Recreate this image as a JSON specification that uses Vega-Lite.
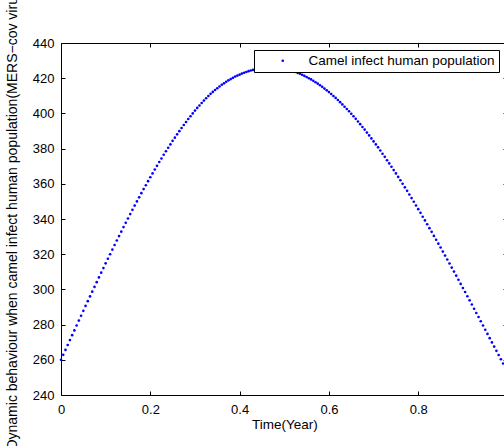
{
  "$schema": "https://vega.github.io/schema/vega-lite/v6.json",
  "width": 443,
  "height": 352,
  "autosize": {"type": "none"},
  "padding": {"left": 61, "top": 43, "right": 0, "bottom": 51},
  "background": "white",
  "config": {
    "view": {"stroke": null},
    "font": "Liberation Sans",
    "axis": {
      "domainColor": "black",
      "domainWidth": 1,
      "tickColor": "black",
      "tickWidth": 1,
      "grid": false,
      "labelColor": "black",
      "labelFontSize": 13,
      "labelFlush": false,
      "labelOverlap": false,
      "titleColor": "black",
      "titleFontWeight": "normal",
      "titleLimit": 1000
    }
  },
  "data": {
    "values": [
      {"time": 0.000, "infected": 260.0}, {"time": 0.005, "infected": 262.8}, {"time": 0.010, "infected": 265.6}, {"time": 0.015, "infected": 268.4},
      {"time": 0.020, "infected": 271.2}, {"time": 0.025, "infected": 274.0}, {"time": 0.030, "infected": 276.7}, {"time": 0.035, "infected": 279.5},
      {"time": 0.040, "infected": 282.3}, {"time": 0.045, "infected": 285.0}, {"time": 0.050, "infected": 287.8}, {"time": 0.055, "infected": 290.6},
      {"time": 0.060, "infected": 293.3}, {"time": 0.065, "infected": 296.0}, {"time": 0.070, "infected": 298.7}, {"time": 0.075, "infected": 301.4},
      {"time": 0.080, "infected": 304.1}, {"time": 0.085, "infected": 306.8}, {"time": 0.090, "infected": 309.5}, {"time": 0.095, "infected": 312.1},
      {"time": 0.100, "infected": 314.8}, {"time": 0.105, "infected": 317.4}, {"time": 0.110, "infected": 320.0}, {"time": 0.115, "infected": 322.6},
      {"time": 0.120, "infected": 325.2}, {"time": 0.125, "infected": 327.8}, {"time": 0.130, "infected": 330.3}, {"time": 0.135, "infected": 332.8},
      {"time": 0.140, "infected": 335.4}, {"time": 0.145, "infected": 337.8}, {"time": 0.150, "infected": 340.3}, {"time": 0.155, "infected": 342.8},
      {"time": 0.160, "infected": 345.2}, {"time": 0.165, "infected": 347.6}, {"time": 0.170, "infected": 350.0}, {"time": 0.175, "infected": 352.3},
      {"time": 0.180, "infected": 354.7}, {"time": 0.185, "infected": 357.0}, {"time": 0.190, "infected": 359.2}, {"time": 0.195, "infected": 361.5},
      {"time": 0.200, "infected": 363.7}, {"time": 0.205, "infected": 365.9}, {"time": 0.210, "infected": 368.1}, {"time": 0.215, "infected": 370.2},
      {"time": 0.220, "infected": 372.4}, {"time": 0.225, "infected": 374.4}, {"time": 0.230, "infected": 376.5}, {"time": 0.235, "infected": 378.5},
      {"time": 0.240, "infected": 380.5}, {"time": 0.245, "infected": 382.4}, {"time": 0.250, "infected": 384.4}, {"time": 0.255, "infected": 386.2},
      {"time": 0.260, "infected": 388.1}, {"time": 0.265, "infected": 389.9}, {"time": 0.270, "infected": 391.7}, {"time": 0.275, "infected": 393.4},
      {"time": 0.280, "infected": 395.1}, {"time": 0.285, "infected": 396.8}, {"time": 0.290, "infected": 398.4}, {"time": 0.295, "infected": 400.0},
      {"time": 0.300, "infected": 401.6}, {"time": 0.305, "infected": 403.1}, {"time": 0.310, "infected": 404.5}, {"time": 0.315, "infected": 405.9},
      {"time": 0.320, "infected": 407.3}, {"time": 0.325, "infected": 408.6}, {"time": 0.330, "infected": 409.9}, {"time": 0.335, "infected": 411.1},
      {"time": 0.340, "infected": 412.2}, {"time": 0.345, "infected": 413.3}, {"time": 0.350, "infected": 414.3}, {"time": 0.355, "infected": 415.3},
      {"time": 0.360, "infected": 416.3}, {"time": 0.365, "infected": 417.1}, {"time": 0.370, "infected": 418.0}, {"time": 0.375, "infected": 418.8},
      {"time": 0.380, "infected": 419.5}, {"time": 0.385, "infected": 420.2}, {"time": 0.390, "infected": 420.9}, {"time": 0.395, "infected": 421.5},
      {"time": 0.400, "infected": 422.0}, {"time": 0.405, "infected": 422.6}, {"time": 0.410, "infected": 423.1}, {"time": 0.415, "infected": 423.5},
      {"time": 0.420, "infected": 424.0}, {"time": 0.425, "infected": 424.4}, {"time": 0.430, "infected": 424.7}, {"time": 0.435, "infected": 425.0},
      {"time": 0.440, "infected": 425.3}, {"time": 0.445, "infected": 425.5}, {"time": 0.450, "infected": 425.7}, {"time": 0.455, "infected": 425.8},
      {"time": 0.460, "infected": 425.9}, {"time": 0.465, "infected": 426.0}, {"time": 0.470, "infected": 426.0}, {"time": 0.475, "infected": 426.0},
      {"time": 0.480, "infected": 425.9}, {"time": 0.485, "infected": 425.8}, {"time": 0.490, "infected": 425.7}, {"time": 0.495, "infected": 425.5},
      {"time": 0.500, "infected": 425.2}, {"time": 0.505, "infected": 425.0}, {"time": 0.510, "infected": 424.7}, {"time": 0.515, "infected": 424.3},
      {"time": 0.520, "infected": 423.9}, {"time": 0.525, "infected": 423.5}, {"time": 0.530, "infected": 423.0}, {"time": 0.535, "infected": 422.5},
      {"time": 0.540, "infected": 421.9}, {"time": 0.545, "infected": 421.3}, {"time": 0.550, "infected": 420.7}, {"time": 0.555, "infected": 420.0},
      {"time": 0.560, "infected": 419.3}, {"time": 0.565, "infected": 418.5}, {"time": 0.570, "infected": 417.7}, {"time": 0.575, "infected": 416.9},
      {"time": 0.580, "infected": 416.0}, {"time": 0.585, "infected": 415.1}, {"time": 0.590, "infected": 414.1}, {"time": 0.595, "infected": 413.1},
      {"time": 0.600, "infected": 412.1}, {"time": 0.605, "infected": 411.0}, {"time": 0.610, "infected": 409.9}, {"time": 0.615, "infected": 408.8},
      {"time": 0.620, "infected": 407.6}, {"time": 0.625, "infected": 406.4}, {"time": 0.630, "infected": 405.1}, {"time": 0.635, "infected": 403.8},
      {"time": 0.640, "infected": 402.5}, {"time": 0.645, "infected": 401.2}, {"time": 0.650, "infected": 399.8}, {"time": 0.655, "infected": 398.4},
      {"time": 0.660, "infected": 396.9}, {"time": 0.665, "infected": 395.4}, {"time": 0.670, "infected": 393.9}, {"time": 0.675, "infected": 392.3},
      {"time": 0.680, "infected": 390.8}, {"time": 0.685, "infected": 389.1}, {"time": 0.690, "infected": 387.5}, {"time": 0.695, "infected": 385.8},
      {"time": 0.700, "infected": 384.1}, {"time": 0.705, "infected": 382.4}, {"time": 0.710, "infected": 380.7}, {"time": 0.715, "infected": 378.9},
      {"time": 0.720, "infected": 377.1}, {"time": 0.725, "infected": 375.3}, {"time": 0.730, "infected": 373.4}, {"time": 0.735, "infected": 371.6},
      {"time": 0.740, "infected": 369.7}, {"time": 0.745, "infected": 367.8}, {"time": 0.750, "infected": 365.9}, {"time": 0.755, "infected": 363.9},
      {"time": 0.760, "infected": 362.0}, {"time": 0.765, "infected": 360.0}, {"time": 0.770, "infected": 358.0}, {"time": 0.775, "infected": 356.0},
      {"time": 0.780, "infected": 353.9}, {"time": 0.785, "infected": 351.9}, {"time": 0.790, "infected": 349.8}, {"time": 0.795, "infected": 347.7},
      {"time": 0.800, "infected": 345.6}, {"time": 0.805, "infected": 343.5}, {"time": 0.810, "infected": 341.3}, {"time": 0.815, "infected": 339.2},
      {"time": 0.820, "infected": 337.0}, {"time": 0.825, "infected": 334.8}, {"time": 0.830, "infected": 332.7}, {"time": 0.835, "infected": 330.4},
      {"time": 0.840, "infected": 328.2}, {"time": 0.845, "infected": 326.0}, {"time": 0.850, "infected": 323.8}, {"time": 0.855, "infected": 321.5},
      {"time": 0.860, "infected": 319.2}, {"time": 0.865, "infected": 317.0}, {"time": 0.870, "infected": 314.7}, {"time": 0.875, "infected": 312.4},
      {"time": 0.880, "infected": 310.1}, {"time": 0.885, "infected": 307.8}, {"time": 0.890, "infected": 305.5}, {"time": 0.895, "infected": 303.1},
      {"time": 0.900, "infected": 300.8}, {"time": 0.905, "infected": 298.5}, {"time": 0.910, "infected": 296.1}, {"time": 0.915, "infected": 293.8},
      {"time": 0.920, "infected": 291.4}, {"time": 0.925, "infected": 289.0}, {"time": 0.930, "infected": 286.6}, {"time": 0.935, "infected": 284.3},
      {"time": 0.940, "infected": 281.9}, {"time": 0.945, "infected": 279.5}, {"time": 0.950, "infected": 277.1}, {"time": 0.955, "infected": 274.7},
      {"time": 0.960, "infected": 272.3}, {"time": 0.965, "infected": 269.9}, {"time": 0.970, "infected": 267.5}, {"time": 0.975, "infected": 265.1},
      {"time": 0.980, "infected": 262.7}, {"time": 0.985, "infected": 260.3}, {"time": 0.990, "infected": 257.9}, {"time": 0.995, "infected": 255.4},
      {"time": 1.000, "infected": 253.0}
    ]
  },
  "layer": [
    {
      "mark": {"type": "point", "filled": true, "size": 7, "opacity": 1},
      "encoding": {
        "x": {
          "field": "time",
          "type": "quantitative",
          "scale": {"domain": [0, 0.992], "nice": false, "zero": false},
          "axis": {
            "orient": "bottom",
            "values": [0, 0.2, 0.4, 0.6, 0.8],
            "format": ".1~f",
            "tickSize": -4,
            "labelPadding": 22,
            "labelBaseline": "alphabetic",
            "title": "Time(Year)",
            "titleFontSize": 13.5,
            "titleX": 223.3,
            "titleY": 33,
            "titleAlign": "center",
            "titleBaseline": "alphabetic"
          }
        },
        "y": {
          "field": "infected",
          "type": "quantitative",
          "scale": {"domain": [240, 440], "nice": false, "zero": false},
          "axis": {
            "orient": "left",
            "values": [240, 260, 280, 300, 320, 340, 360, 380, 400, 420, 440],
            "tickSize": -4,
            "labelPadding": 11,
            "title": "Dynamic behaviour when camel infect human population(MERS−cov virus)",
            "titleFontSize": 14,
            "titleAngle": 270,
            "titleX": -44.5,
            "titleY": 174,
            "titleAlign": "center",
            "titleBaseline": "alphabetic"
          }
        },
        "color": {
          "datum": "Camel infect human population",
          "type": "nominal",
          "scale": {"range": ["#0000ff"]},
          "legend": {
            "orient": "none",
            "legendX": 193,
            "legendY": 7,
            "title": null,
            "padding": 4,
            "strokeColor": "black",
            "fillColor": "white",
            "symbolType": "circle",
            "symbolSize": 7,
            "symbolOffset": 18,
            "labelOffset": 19,
            "labelFontSize": 13.5,
            "labelColor": "black",
            "labelLimit": 400
          }
        }
      }
    },
    {
      "mark": {"type": "point", "opacity": 0},
      "encoding": {
        "x": {
          "field": "time",
          "type": "quantitative",
          "axis": {"orient": "top", "values": [0, 0.2, 0.4, 0.6, 0.8], "tickSize": -4, "labels": false, "title": null}
        },
        "y": {
          "field": "infected",
          "type": "quantitative",
          "axis": {"orient": "right", "values": [240, 260, 280, 300, 320, 340, 360, 380, 400, 420, 440], "tickSize": -1, "labels": false, "domain": false, "title": null}
        }
      }
    }
  ],
  "resolve": {"axis": {"x": "independent", "y": "independent"}}
}
